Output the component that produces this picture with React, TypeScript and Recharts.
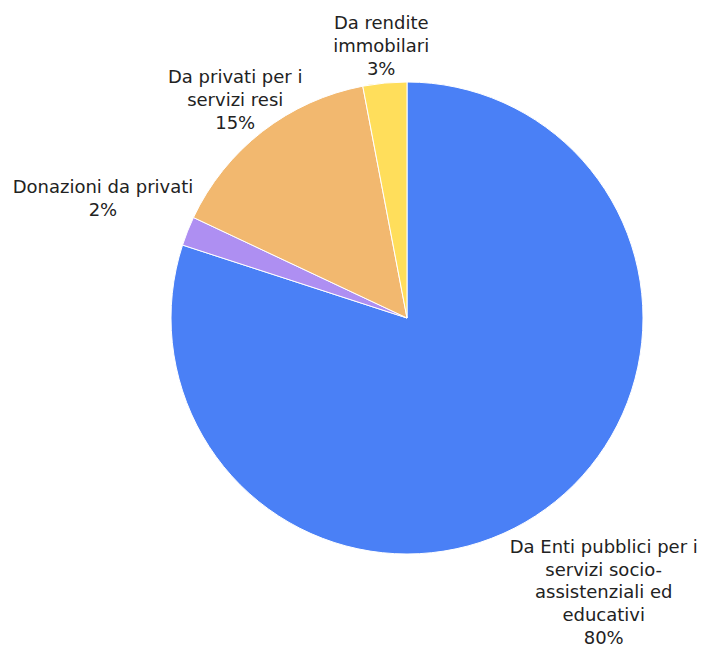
import React from 'react';
import { PieChart, Pie, Cell } from 'recharts';

const sources = [
  'Da Enti pubblici per i servizi socio-assistenziali ed educativi',
  'Donazioni da privati',
  'Da privati per i servizi resi',
  'Da rendite immobilari',
];
const shares = [80, 2, 15, 3];

// how each label breaks onto lines, as in the picture
const labelLines = [
  ['Da Enti pubblici per i', 'servizi socio-', 'assistenziali ed', 'educativi'],
  ['Donazioni da privati'],
  ['Da privati per i', 'servizi resi'],
  ['Da rendite', 'immobilari'],
];

const COLORS = ['#4A80F6', '#AE8FF2', '#F2B86F', '#FFDE5B'];
const LABEL_GAP = [97, 91, 41, 38];
const LABEL_NUDGE = [[1, 4], [0, 0], [-2, 0], [0, 0]];

const data = sources.map((name, i) => ({ name, value: shares[i] }));

const RADIAN = Math.PI / 180;

const renderLabel = (props: any) => {
  const { cx, cy, midAngle, outerRadius, index, value } = props;
  const r = outerRadius + LABEL_GAP[index];
  const x = cx + r * Math.cos(-midAngle * RADIAN) + LABEL_NUDGE[index][0];
  const y = cy + r * Math.sin(-midAngle * RADIAN) + LABEL_NUDGE[index][1];
  const lines = [...labelLines[index], `${value}%`];
  const lh = 22.75;
  const y0 = y - ((lines.length - 1) * lh) / 2;
  return (
    <text
      x={x}
      y={y0}
      textAnchor="middle"
      dominantBaseline="central"
      fill="#222222"
      stroke="none"
      fontSize={18}
      fontFamily="'DejaVu Sans', sans-serif"
    >
      {lines.map((l, i) => (
        <tspan key={i} x={x} y={y0 + i * lh}>{l}</tspan>
      ))}
    </text>
  );
};

export default function App() {
  return (
    <div style={{ position: 'absolute', left: 0, top: 0, width: 707, height: 646, background: '#fff' }}>
      <PieChart width={707} height={646} margin={{ top: 0, right: 0, bottom: 0, left: 0 }}>
        <Pie
          data={data}
          dataKey="value"
          nameKey="name"
          cx={407}
          cy={318}
          outerRadius={236}
          startAngle={90}
          endAngle={-270}
          stroke="#ffffff"
          strokeWidth={1}
          label={renderLabel}
          labelLine={false}
          isAnimationActive={false}
        >
          {data.map((entry, i) => (
            <Cell key={`cell-${i}`} fill={COLORS[i]} />
          ))}
        </Pie>
      </PieChart>
    </div>
  );
}
